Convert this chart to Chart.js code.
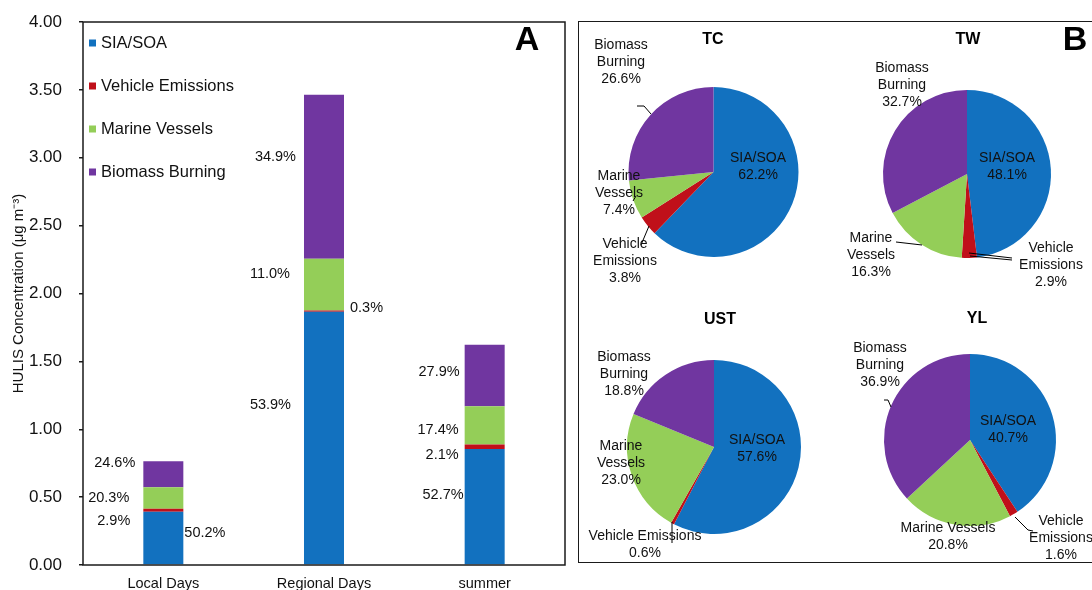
<!DOCTYPE html>
<html>
<head>
<meta charset="utf-8">
<script src="https://cdn.jsdelivr.net/npm/chart.js@4.4.1/dist/chart.umd.min.js"></script>
<style>
  html, body { margin: 0; padding: 0; background: #fff; }
  body { position: relative; width: 1092px; height: 590px; overflow: hidden; }
  canvas { position: absolute; }
  #frameB { position: absolute; left: 578px; top: 21px; width: 600px; height: 542px;
            border: 1.5px solid #1a1a1a; box-sizing: border-box; }
</style>
</head>
<body>
<div id="frameB"></div>
<canvas id="barA" width="580" height="590" style="left:0;top:0"></canvas>
<canvas id="pieTC" width="256" height="270" style="left:580px;top:23px"></canvas>
<canvas id="pieTW" width="256" height="270" style="left:836px;top:23px"></canvas>
<canvas id="pieUST" width="256" height="268" style="left:580px;top:293px"></canvas>
<canvas id="pieYL" width="256" height="268" style="left:836px;top:293px"></canvas>
<script>
// ---- Panel A: HULIS by day type ----
const categories = ['Local Days', 'Regional Days', 'summer'];
const seriesNames = ['SIA/SOA', 'Vehicle Emissions', 'Marine Vessels', 'Biomass Burning'];
const barTotals = [0.78, 3.46, 1.62];          // µg m-3
const siaShare = [50.2, 53.9, 52.7];            // %
const vehicleShare = [2.9, 0.3, 2.1];
const marineShare = [20.3, 11.0, 17.4];
const biomassShare = [24.6, 34.9, 27.9];
const yTickValues = [0, 0.5, 1, 1.5, 2, 2.5, 3, 3.5, 4];

// ---- Panel B: source shares by site ----
const siteNames = ['TC', 'TW', 'UST', 'YL'];
const tcShare = [62.2, 3.8, 7.4, 26.6];
const twShare = [48.1, 2.9, 16.3, 32.7];
const ustShare = [57.6, 0.6, 23.0, 18.8];
const ylShare = [40.7, 1.6, 20.8, 36.9];

const colors = ['#1271BF', '#C0101A', '#94CE58', '#7036A0'];
const FONT = '"Liberation Sans", Arial, Helvetica, sans-serif';
const INK = '#111';

Chart.defaults.font.family = FONT;
Chart.defaults.color = INK;

// where each percentage sits beside its bar: side, gap from bar edge (px), height (axis units)
const barLabelPlacement = [
  [{side: 'R', gap: 1, at: 0.236}, {side: 'L', gap: 13, at: 0.324}, {side: 'L', gap: 14, at: 0.494}, {side: 'L', gap: 8, at: 0.755}],
  [{side: 'L', gap: 13, at: 1.179}, {side: 'R', gap: 6, at: 1.893}, {side: 'L', gap: 14, at: 2.144}, {side: 'L', gap: 8, at: 3.006}],
  [{side: 'L', gap: 1, at: 0.515}, {side: 'L', gap: 6, at: 0.81}, {side: 'L', gap: 6, at: 0.994}, {side: 'L', gap: 5, at: 1.422}]
];

const shareSeries = [siaShare, vehicleShare, marineShare, biomassShare];
const barDatasets = shareSeries.map((shares, i) => ({
  label: seriesNames[i],
  shares: shares,
  data: shares.map((s, j) => barTotals[j] * s / 100),
  backgroundColor: colors[i],
  borderWidth: 0,
  categoryPercentage: 1,
  barPercentage: 0.249
}));

const frameA = {
  id: 'frameA',
  afterDraw(chart) {
    const {ctx, chartArea: a} = chart;
    ctx.save();
    ctx.strokeStyle = '#1a1a1a';
    ctx.lineWidth = 1.5;
    ctx.strokeRect(a.left, a.top, a.right - a.left, a.bottom - a.top);
    ctx.fillStyle = '#000';
    ctx.font = 'bold 34px ' + FONT;
    ctx.textAlign = 'center';
    ctx.textBaseline = 'middle';
    ctx.fillText('A', 527, 41);
    ctx.restore();
  }
};

const legendA = {
  id: 'legendA',
  afterDraw(chart) {
    const {ctx} = chart;
    ctx.save();
    ctx.font = '16.5px ' + FONT;
    ctx.textBaseline = 'middle';
    ctx.textAlign = 'left';
    chart.data.datasets.forEach((ds, i) => {
      const cy = 43 + 43 * i;
      ctx.fillStyle = ds.backgroundColor;
      ctx.fillRect(89, cy - 3.5, 7, 7);
      ctx.fillStyle = INK;
      ctx.fillText(ds.label, 101, cy);
    });
    ctx.restore();
  }
};

const barLabels = {
  id: 'barLabels',
  afterDatasetsDraw(chart) {
    const {ctx} = chart;
    const yScale = chart.scales.y;
    ctx.save();
    ctx.font = '14.5px ' + FONT;
    ctx.fillStyle = INK;
    ctx.textBaseline = 'middle';
    chart.data.datasets.forEach((ds, i) => {
      chart.getDatasetMeta(i).data.forEach((bar, j) => {
        const p = barLabelPlacement[j][i];
        const half = bar.width / 2;
        const px = p.side === 'L' ? bar.x - half - p.gap : bar.x + half + p.gap;
        ctx.textAlign = p.side === 'L' ? 'right' : 'left';
        ctx.fillText(ds.shares[j].toFixed(1) + '%', px, yScale.getPixelForValue(p.at));
      });
    });
    ctx.restore();
  }
};

new Chart(document.getElementById('barA'), {
  type: 'bar',
  data: { labels: categories, datasets: barDatasets },
  options: {
    responsive: false,
    devicePixelRatio: 1,
    animation: false,
    layout: { padding: { top: 22, right: 15, left: 0, bottom: 0 } },
    plugins: { legend: { display: false }, tooltip: { enabled: false } },
    scales: {
      x: {
        stacked: true,
        grid: { display: false, drawTicks: false },
        border: { display: false },
        ticks: { font: { size: 14.5 }, color: INK, padding: 10 },
        afterFit(scale) {
          scale.height = 25;
          scale.paddingLeft = 0;
          scale.paddingRight = 0;
        }
      },
      y: {
        stacked: true,
        min: 0, max: 4,
        afterBuildTicks(scale) { scale.ticks = yTickValues.map(v => ({ value: v })); },
        grid: { drawOnChartArea: false, drawTicks: true, tickLength: 4, color: '#1a1a1a', lineWidth: 1.5 },
        border: { display: false },
        ticks: { font: { size: 17 }, color: INK, padding: 17, callback: v => Number(v).toFixed(2) },
        title: {
          display: true,
          text: 'HULIS Concentration (\u03bcg m\u207b\u00b3)',
          font: { size: 15 },
          color: INK,
          padding: { top: 10, bottom: 0 }
        },
        afterFit(scale) {
          scale.width = 83;
          scale.paddingTop = 0;
          scale.paddingBottom = 0;
        }
      }
    }
  },
  plugins: [frameA, legendA, barLabels]
});

// ---- Panel B pies ----
const pieLayout = {
  TC: {
    canvas: 'pieTC', origin: [580, 23], size: [256, 270], center: [713.5, 172], r: 85, title: [713, 40],
    labels: [
      { x: 758, y: 158, wrap: true },
      { x: 625, y: 244, wrap: true },
      { x: 619, y: 176, wrap: true },
      { x: 621, y: 45, wrap: true }
    ],
    leaders: [
      [[649, 226], [641, 245]],
      [[633, 201], [636, 196]],
      [[637, 106], [644, 106], [651, 114]]
    ]
  },
  TW: {
    canvas: 'pieTW', origin: [836, 23], size: [256, 270], center: [967, 174], r: 84, title: [968, 40],
    labels: [
      { x: 1007, y: 158, wrap: true },
      { x: 1051, y: 248, wrap: true },
      { x: 871, y: 238, wrap: true },
      { x: 902, y: 68, wrap: true }
    ],
    leaders: [
      [[969, 253], [1012, 258]],
      [[970, 256], [1012, 260]],
      [[896, 242], [922, 245]]
    ],
    panelLetter: [1075, 41]
  },
  UST: {
    canvas: 'pieUST', origin: [580, 293], size: [256, 268], center: [714, 447], r: 87, title: [720, 320],
    labels: [
      { x: 757, y: 440, wrap: true },
      { x: 645, y: 536, wrap: false },
      { x: 621, y: 446, wrap: true },
      { x: 624, y: 357, wrap: true }
    ],
    leaders: [
      [[672, 522], [672, 543]]
    ]
  },
  YL: {
    canvas: 'pieYL', origin: [836, 293], size: [256, 268], center: [970, 440], r: 86, title: [977, 319],
    labels: [
      { x: 1008, y: 421, wrap: true },
      { x: 1061, y: 521, wrap: true },
      { x: 948, y: 528, wrap: false },
      { x: 880, y: 348, wrap: true }
    ],
    leaders: [
      [[1015, 517], [1028, 530], [1033, 531]],
      [[884, 400], [888, 400], [891, 407]]
    ]
  }
};

const pieText = {
  id: 'pieText',
  afterDraw(chart) {
    const L = chart.options.plugins.pieText.layout;
    const site = chart.options.plugins.pieText.site;
    const shares = chart.data.datasets[0].data;
    const [ox, oy] = L.origin;
    const {ctx} = chart;
    ctx.save();
    ctx.translate(-ox, -oy);
    ctx.fillStyle = '#000';
    ctx.textAlign = 'center';
    ctx.textBaseline = 'middle';
    ctx.font = 'bold 16px ' + FONT;
    ctx.fillText(site, L.title[0], L.title[1]);
    if (L.panelLetter) {
      ctx.font = 'bold 34px ' + FONT;
      ctx.fillText('B', L.panelLetter[0], L.panelLetter[1]);
    }
    ctx.strokeStyle = '#000';
    ctx.lineWidth = 1;
    L.leaders.forEach(pts => {
      ctx.beginPath();
      pts.forEach(([x, y], k) => k ? ctx.lineTo(x, y) : ctx.moveTo(x, y));
      ctx.stroke();
    });
    ctx.font = '14px ' + FONT;
    ctx.fillStyle = INK;
    chart.data.labels.forEach((name, i) => {
      const lab = L.labels[i];
      const lines = (lab.wrap ? name.split(' ') : [name]).concat(shares[i].toFixed(1) + '%');
      lines.forEach((t, k) => ctx.fillText(t, lab.x, lab.y + k * 17));
    });
    ctx.restore();
  }
};

function drawPie(site, shares) {
  const L = pieLayout[site];
  const [ox, oy] = L.origin;
  const [w, h] = L.size;
  const [cx, cy] = L.center;
  new Chart(document.getElementById(L.canvas), {
    type: 'pie',
    data: {
      labels: seriesNames,
      datasets: [{ data: shares, backgroundColor: colors, borderWidth: 0, hoverOffset: 0 }]
    },
    options: {
      responsive: false,
      devicePixelRatio: 1,
      animation: false,
      radius: L.r,
      layout: {
        padding: {
          left: cx - L.r - ox,
          top: cy - L.r - oy,
          right: ox + w - (cx + L.r),
          bottom: oy + h - (cy + L.r)
        }
      },
      plugins: {
        legend: { display: false },
        tooltip: { enabled: false },
        pieText: { layout: L, site: site }
      }
    },
    plugins: [pieText]
  });
}

drawPie('TC', tcShare);
drawPie('TW', twShare);
drawPie('UST', ustShare);
drawPie('YL', ylShare);
</script>
</body>
</html>
